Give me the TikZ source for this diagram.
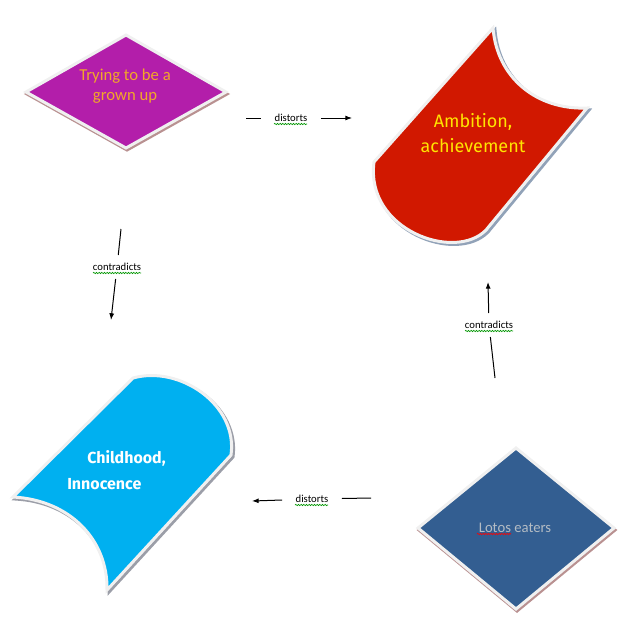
\documentclass[tikz,border=0pt]{standalone}
\usepackage{fontspec}
\setmainfont{Carlito}
\newfontfamily\dinfont{Fira Sans}
\usepackage{tikz}
\usetikzlibrary{arrows.meta}
\usetikzlibrary{decorations.pathmorphing}
\definecolor{plum}{RGB}{179,30,170}
\definecolor{brick}{RGB}{209,24,0}
\definecolor{sky}{RGB}{0,176,240}
\definecolor{navy}{RGB}{51,94,145}
\definecolor{rim}{RGB}{240,240,240}
\definecolor{rosy}{RGB}{185,145,145}
\definecolor{slate}{RGB}{145,162,184}
\definecolor{ash}{RGB}{155,158,168}
\definecolor{amber}{RGB}{242,168,40}
\definecolor{lemon}{RGB}{255,228,0}
\definecolor{mist}{RGB}{180,188,196}
\definecolor{spell}{RGB}{0,150,0}

\begin{document}
\begin{tikzpicture}[x=0.75pt, y=-0.75pt,
		tile/.style = {draw=rim, line width=2.25pt},
		drop/.style = {line width=2.25pt},
		verb/.style = {font=\fontsize{8}{9}\selectfont, inner xsep=10pt, inner ysep=6pt},
		wire/.style = {line width=0.75pt},
		tip/.style = {-{Latex[length=5pt,width=3.75pt]}},
		squig/.style = {decorate, decoration={snake, amplitude=0.5pt, segment length=2pt}, line width=0.5pt}]
	
	\useasboundingbox (0,0) rectangle (639,636);
	
	% Trying to be a grown up
	\draw[drop, rosy, shift={(1,2)}] (26,92) -- (126,35) -- (226,92) -- (126,148) -- cycle;
	\draw[tile, fill=plum] (26,92) -- (126,35) -- (226,92) -- (126,148) -- cycle;
	\node[text=amber, align=center, font=\fontsize{12.5}{15.5}\selectfont] (grown) at (125,86) {Trying to be a\\grown up};
	
	% Ambition, achievement
	\draw[drop, slate, shift={(2,2)}] (493,28) .. controls (497,78) and (537,110) .. (587,108) -- (486,230) .. controls (455,262) and (365,230) .. (374,162) -- cycle;
	\draw[tile, fill=brick] (493,28) .. controls (497,78) and (537,110) .. (587,108) -- (486,230) .. controls (455,262) and (365,230) .. (374,162) -- cycle;
	\node[text=lemon, align=center, font=\dinfont\fontsize{13.5}{18.5}\selectfont] (ambition) at (473,133) {Ambition,\\achievement};
	
	% Childhood, Innocence
	\draw[drop, ash, shift={(2,2)}] (133,378) .. controls (180,365) and (238,405) .. (231,455) -- (107,590) .. controls (108,540) and (70,500) .. (13,497) -- cycle;
	\draw[tile, fill=sky] (133,378) .. controls (180,365) and (238,405) .. (231,455) -- (107,590) .. controls (108,540) and (70,500) .. (13,497) -- cycle;
	\node[text=white, align=left, anchor=west, inner sep=0pt, font=\dinfont\bfseries\fontsize{12}{20}\selectfont] (childhood) at (67,470) {\hspace{15pt}Childhood,\\Innocence};
	
	% Lotos eaters
	\draw[drop, rosy, shift={(1,2)}] (418,528) -- (516,448) -- (614,528) -- (516,609) -- cycle;
	\draw[tile, fill=navy] (418,528) -- (516,448) -- (614,528) -- (516,609) -- cycle;
	\node[text=mist, font=\fontsize{11}{13}\selectfont] (lotos) at (515,528) {Lotos eaters};
	\draw[squig, red] ([shift={(-38,6)}]lotos.center) -- ([shift={(-4,6)}]lotos.center);
	
	% Connectors
	\coordinate (d1a) at (246,118);
	\coordinate (d1b) at (352,118);
	\node[verb] (dist1) at (291,118) {distorts};
	\draw[wire] (d1a) -- (dist1);
	\draw[wire, tip] (dist1) -- (d1b);
	
	\coordinate (c1a) at (121,229);
	\coordinate (c1b) at (111,320);
	\node[verb] (contra1) at (117,267) {contradicts};
	\draw[wire] (c1a) -- (contra1);
	\draw[wire, tip] (contra1) -- (c1b);
	
	\coordinate (c2a) at (495,378);
	\coordinate (c2b) at (488,282);
	\node[verb] (contra2) at (489,325) {contradicts};
	\draw[wire] (c2a) -- (contra2);
	\draw[wire, tip] (contra2) -- (c2b);
	
	\coordinate (d2a) at (371,498);
	\coordinate (d2b) at (252,501);
	\node[verb] (dist2) at (312,499) {distorts};
	\draw[wire] (d2a) -- (dist2);
	\draw[wire, tip] (dist2) -- (d2b);
	
	% Spelling marks
	\foreach \w in {dist1, dist2}
		\draw[squig, spell] ([shift={(-17,6)}]\w.center) -- ([shift={(16,6)}]\w.center);
	\foreach \w in {contra1, contra2}
		\draw[squig, spell] ([shift={(-24,6)}]\w.center) -- ([shift={(24,6)}]\w.center);
\end{tikzpicture}
\end{document}
